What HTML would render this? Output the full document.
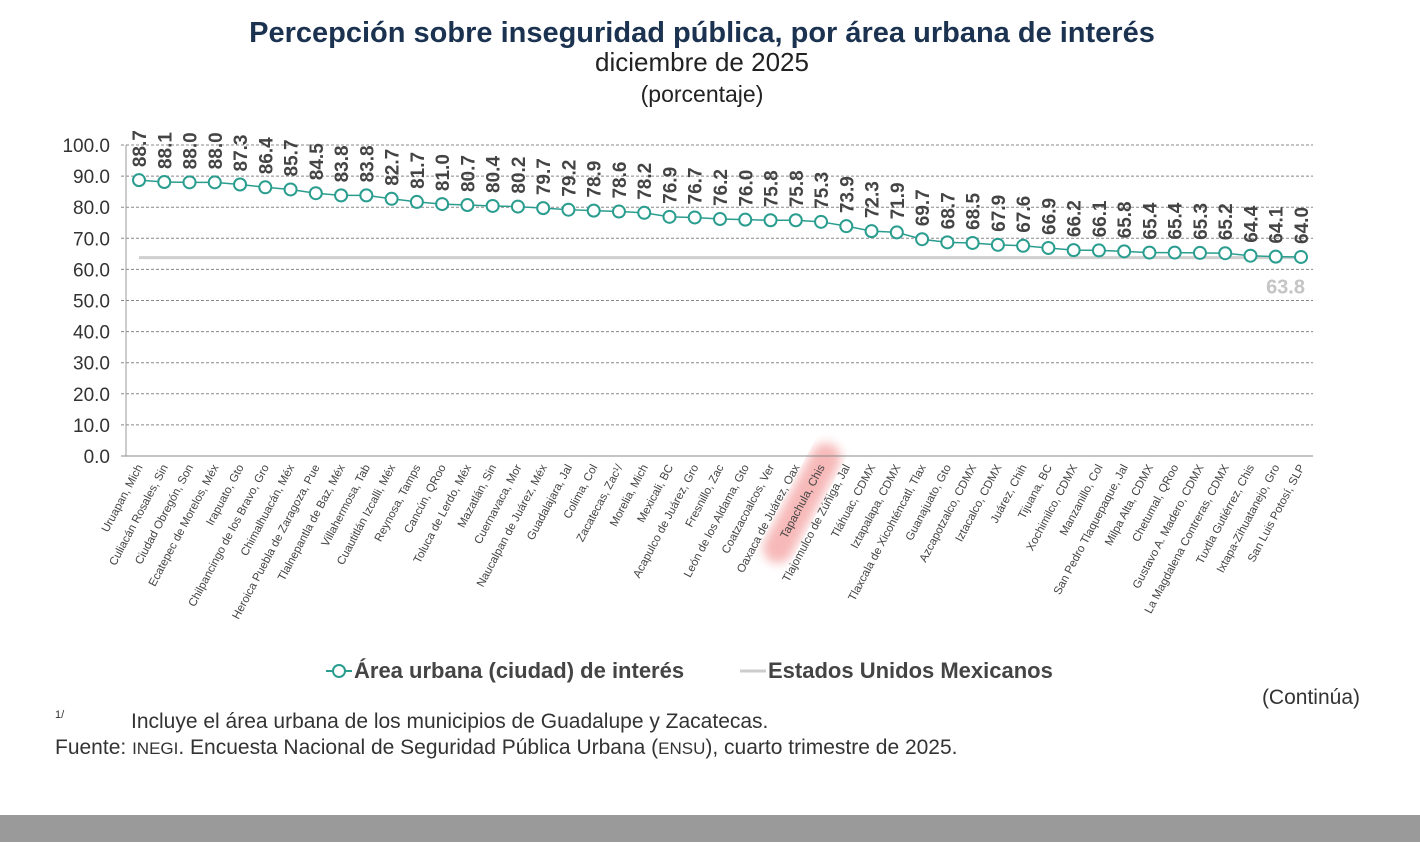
<!DOCTYPE html>
<html><head><meta charset="utf-8"><style>
body{margin:0;width:1420px;height:842px;background:#fff;overflow:hidden;font-family:"Liberation Sans",sans-serif;}
</style></head><body>
<svg width="1420" height="842" xmlns="http://www.w3.org/2000/svg">
<defs><filter id="bl"><feGaussianBlur stdDeviation="5"/></filter></defs>
<text x="702" y="42" text-anchor="middle" font-size="29" font-weight="bold" fill="#1b3350">Percepción sobre inseguridad pública, por área urbana de interés</text>
<text x="702" y="71" text-anchor="middle" font-size="26" fill="#222">diciembre de 2025</text>
<text x="702" y="102" text-anchor="middle" font-size="23" fill="#222">(porcentaje)</text>
<g id="highlight"><rect x="-66" y="-15" width="132" height="30" rx="15" fill="#f28a8a" opacity="0.6" filter="url(#bl)" transform="translate(802,503) rotate(-62)"/></g>
<g id="grid"></g><g id="axes"></g><g id="marks"></g><g id="xl"></g>
<g>
<line x1="326" y1="671" x2="352" y2="671" stroke="#2a9d8f" stroke-width="2"/>
<circle cx="339" cy="671" r="6" fill="#fff" stroke="#2a9d8f" stroke-width="2"/>
<text x="354" y="678" font-size="22" font-weight="bold" fill="#444">Área urbana (ciudad) de interés</text>
<line x1="740" y1="671" x2="766" y2="671" stroke="#ccc" stroke-width="3"/>
<text x="768" y="678" font-size="22" font-weight="bold" fill="#444">Estados Unidos Mexicanos</text>
</g>
<text x="1360" y="704" text-anchor="end" font-size="21" fill="#333">(Continúa)</text>
<text x="55" y="718" font-size="11" fill="#333">1/</text>
<text x="131" y="728" font-size="21" fill="#333">Incluye el área urbana de los municipios de Guadalupe y Zacatecas.</text>
<text x="55" y="754" font-size="21" fill="#333">Fuente: <tspan font-size="17">INEGI</tspan>. Encuesta Nacional de Seguridad Pública Urbana (<tspan font-size="17">ENSU</tspan>), cuarto trimestre de 2025.</text>
<rect x="0" y="815" width="1420" height="27" fill="#9a9a9a"/>
</svg>
<script>
const categories=["Uruapan, Mich","Culiacán Rosales, Sin","Ciudad Obregón, Son","Ecatepec de Morelos, Méx","Irapuato, Gto","Chilpancingo de los Bravo, Gro","Chimalhuacán, Méx","Heroica Puebla de Zaragoza, Pue","Tlalnepantla de Baz, Méx","Villahermosa, Tab","Cuautitlán Izcalli, Méx","Reynosa, Tamps","Cancún, QRoo","Toluca de Lerdo, Méx","Mazatlán, Sin","Cuernavaca, Mor","Naucalpan de Juárez, Méx","Guadalajara, Jal","Colima, Col","Zacatecas, Zac¹/","Morelia, Mich","Mexicali, BC","Acapulco de Juárez, Gro","Fresnillo, Zac","León de los Aldama, Gto","Coatzacoalcos, Ver","Oaxaca de Juárez, Oax","Tapachula, Chis","Tlajomulco de Zúñiga, Jal","Tláhuac, CDMX","Iztapalapa, CDMX","Tlaxcala de Xicohténcatl, Tlax","Guanajuato, Gto","Azcapotzalco, CDMX","Iztacalco, CDMX","Juárez, Chih","Tijuana, BC","Xochimilco, CDMX","Manzanillo, Col","San Pedro Tlaquepaque, Jal","Milpa Alta, CDMX","Chetumal, QRoo","Gustavo A. Madero, CDMX","La Magdalena Contreras, CDMX","Tuxtla Gutiérrez, Chis","Ixtapa-Zihuatanejo, Gro","San Luis Potosí, SLP"];
const cityValues=[88.7,88.1,88.0,88.0,87.3,86.4,85.7,84.5,83.8,83.8,82.7,81.7,81.0,80.7,80.4,80.2,79.7,79.2,78.9,78.6,78.2,76.9,76.7,76.2,76.0,75.8,75.8,75.3,73.9,72.3,71.9,69.7,68.7,68.5,67.9,67.6,66.9,66.2,66.1,65.8,65.4,65.4,65.3,65.2,64.4,64.1,64.0];
const nationalValue=[63.8];
const yTicks=[0,10,20,30,40,50,60,70,80,90,100];
const NS="http://www.w3.org/2000/svg";
const x0=139,x1=1301,yB=456,yT=145;
const x=i=>x0+(x1-x0)*i/(categories.length-1);
const y=v=>yB-(yB-yT)*v/100;
function mk(t,a,p){const e=document.createElementNS(NS,t);for(const k in a)e.setAttribute(k,a[k]);p.appendChild(e);return e;}
const grid=document.getElementById('grid'),axes=document.getElementById('axes'),marks=document.getElementById('marks'),xl=document.getElementById('xl');
yTicks.forEach(v=>{
 const l=mk('line',{x1:121,x2:1313,y1:y(v),y2:y(v),stroke:'#888','stroke-width':1,'stroke-dasharray':v===0?'none':'3,2'},grid);
 
 
 const t=mk('text',{x:110,y:y(v)+7,'text-anchor':'end','font-size':19,fill:'#333'},axes);
 t.textContent=v.toFixed(1);
 
 
});
const ax=mk('line',{x1:126,x2:126,y1:yT,y2:yB,stroke:'#999'},axes);


const nl=mk('line',{x1:x0,x2:x1,y1:y(nationalValue[0]),y2:y(nationalValue[0]),stroke:'#cfcfcf','stroke-width':3},marks);


const nt=mk('text',{x:x1+4,y:y(nationalValue[0])+36,'text-anchor':'end','font-size':20,'font-weight':'bold',fill:'#c4c4c4'},marks);
nt.textContent=nationalValue[0].toFixed(1);


const pl=mk('polyline',{points:cityValues.map((v,i)=>x(i)+','+y(v)).join(' '),fill:'none',stroke:'#2a9d8f','stroke-width':1.5},marks);


cityValues.forEach((v,i)=>{
 const c=mk('circle',{cx:x(i),cy:y(v),r:6,fill:'#fff',stroke:'#2a9d8f','stroke-width':2},marks);
 
 
 const t=mk('text',{x:0,y:0,'font-size':19,'font-weight':'bold',fill:'#444',transform:`translate(${x(i)+7},${y(v)-13}) rotate(-90)`},marks);
 t.textContent=v.toFixed(1);
 
 
 const c2=mk('text',{x:0,y:0,'text-anchor':'end','font-size':11.5,fill:'#444',transform:`translate(${x(i)+4},${467}) rotate(-62)`},xl);
 c2.textContent=categories[i];
 
 
});
</script>
</body></html>
